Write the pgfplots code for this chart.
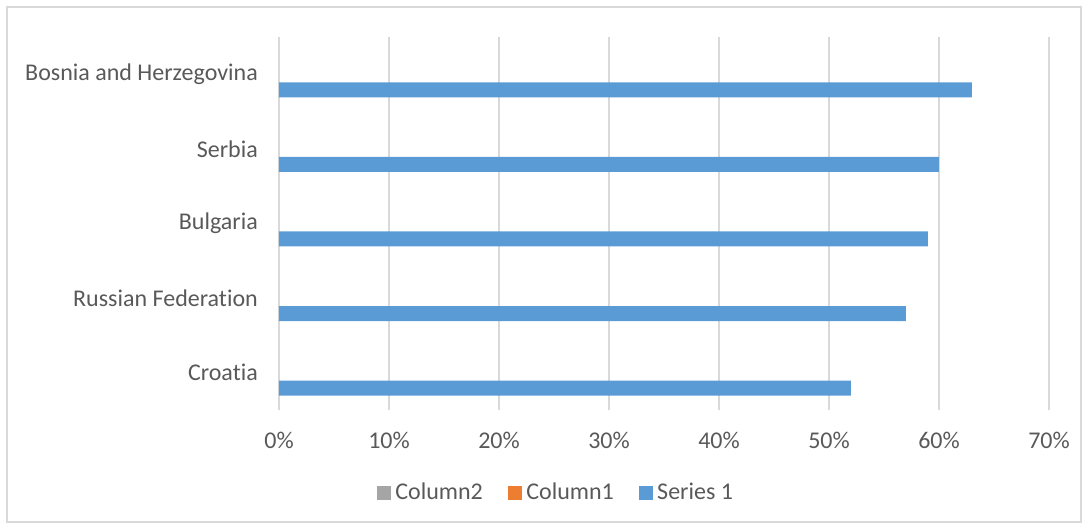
\documentclass[border=0pt]{standalone}
\usepackage{pgfplots}
\pgfplotsset{compat=1.18}
\usepackage{fontspec}
\setmainfont{Carlito}[Ligatures={NoCommon}]
\definecolor{sblue}{HTML}{5B9BD5}
\definecolor{sorange}{HTML}{ED7D31}
\definecolor{sgray}{HTML}{A5A5A5}
\definecolor{gridgray}{HTML}{D9D9D9}
\definecolor{labelgray}{HTML}{595959}
\begin{document}
\fontsize{24pt}{29pt}\selectfont
\begin{tikzpicture}[x=1pt,y=1pt]
\path[use as bounding box] (0,0) rectangle (1088,529);
\draw[color=gridgray, line width=1.5pt] (7,7) rectangle (1081,522);
\begin{axis}[
  at={(279pt,119pt)}, anchor=south west,
  scale only axis, width=770pt, height=373pt,
  xmin=0, xmax=70, ymin=-0.5, ymax=4.5,
  xtick={0,10,20,30,40,50,60,70},
  xticklabels={0\%,10\%,20\%,30\%,40\%,50\%,60\%,70\%},
  ytick={0,1,2,3,4},
  yticklabels={Croatia,Russian Federation,Bulgaria,Serbia,Bosnia and Herzegovina},
  xmajorgrids, grid style={gridgray, line width=1.5pt},
  axis line style={draw=none}, major tick length=0pt,
  tick label style={font=\fontsize{24pt}{29pt}\selectfont, text=labelgray},
  xticklabel style={yshift=-14pt},
  yticklabel style={xshift=-13pt},
  xbar, bar width=15pt,
  legend style={at={(0.3617,-0.2225)}, anchor=center, draw=none, fill=none,
    legend columns=-1, font=\fontsize{24pt}{29pt}\selectfont, text=labelgray,
    /tikz/every even column/.append style={column sep=20pt},
    nodes={inner xsep=5pt}},
]
\addlegendimage{legend image code/.code={\fill[sgray] (0pt,-6.5pt) rectangle (13pt,6.5pt);}}
\addlegendentry{Column2}
\addlegendimage{legend image code/.code={\fill[sorange] (0pt,-6.5pt) rectangle (13pt,6.5pt);}}
\addlegendentry{Column1}
\addlegendimage{legend image code/.code={\fill[sblue] (0pt,-6.5pt) rectangle (13pt,6.5pt);}}
\addlegendentry{Series 1}
\addplot[fill=sblue, draw=none, bar shift=-15.5pt, forget plot] coordinates {(52,0) (57,1) (59,2) (60,3) (63,4)};
\end{axis}
\end{tikzpicture}
\end{document}
